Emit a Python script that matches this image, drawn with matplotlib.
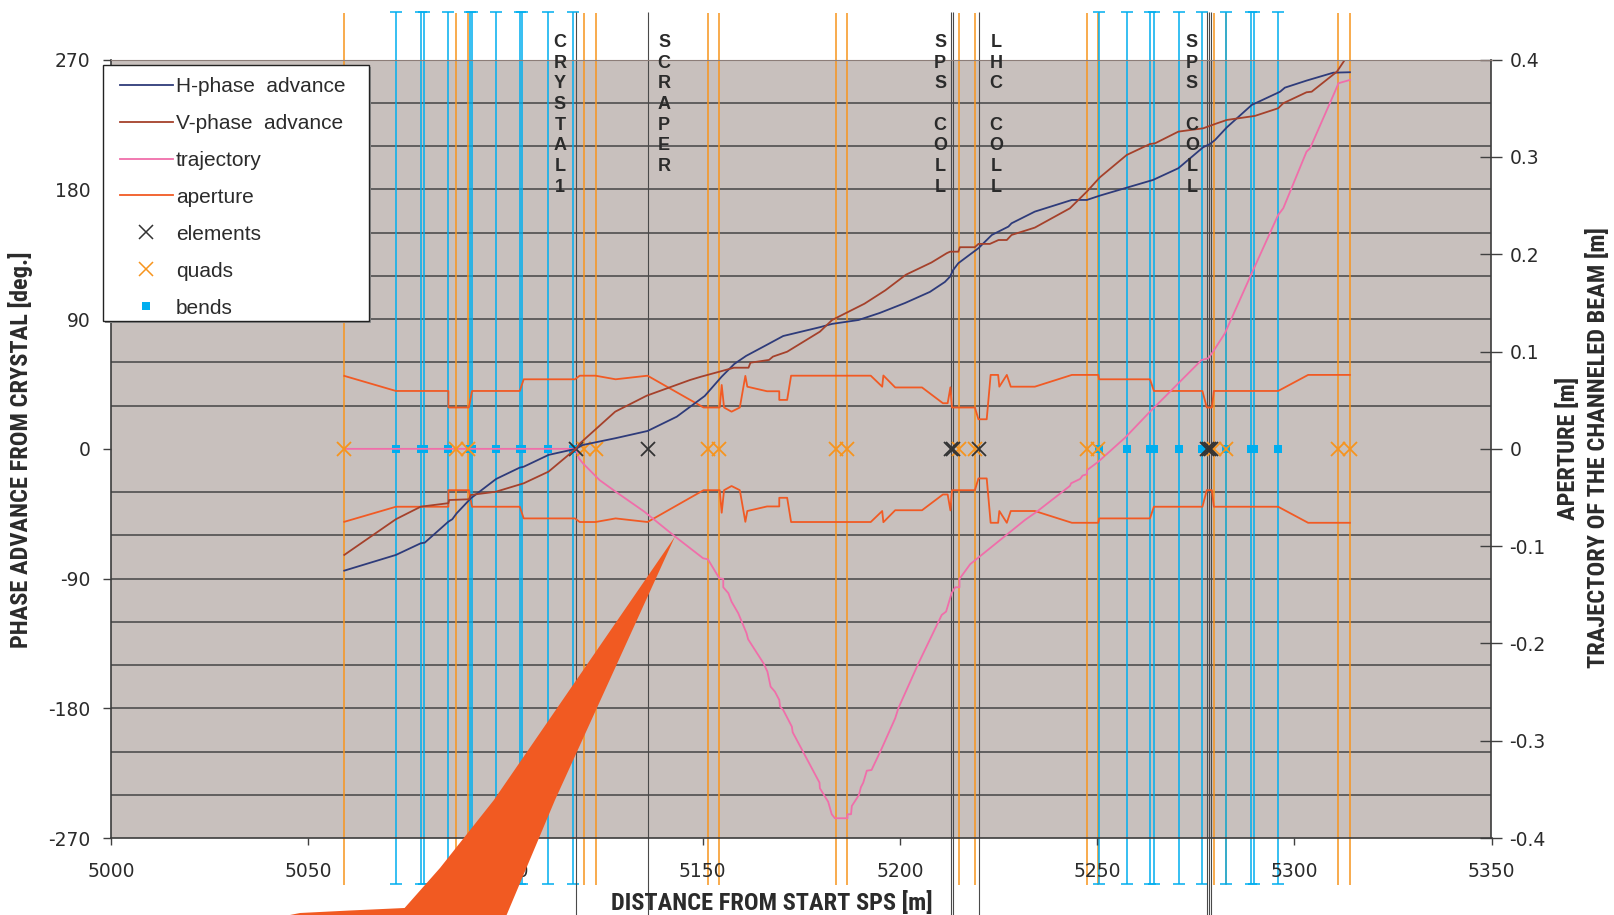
import numpy as np
import matplotlib
matplotlib.use("Agg")
from matplotlib import pyplot as plt
from matplotlib import font_manager as fm
from matplotlib.font_manager import FontProperties
from matplotlib.lines import Line2D
from matplotlib.patches import Polygon, Rectangle
from matplotlib.ticker import MultipleLocator, FuncFormatter
from matplotlib.transforms import blended_transform_factory

plt.rcParams['axes.unicode_minus'] = False

# %% data --------------------------------------------------------------------
# positions along the ring [m]
elements = [5117.8, 5136.0, 5213.0, 5213.5, 5220.0, 5277.8, 5278.3, 5278.8]
quads = [5059.1, 5087.4, 5090.4, 5119.8, 5122.9, 5151.3, 5154.2, 5183.7,
         5186.7, 5214.9, 5219.1, 5247.4, 5250.3, 5279.7, 5282.8, 5311.2, 5314.2]
bends = [5072.3, 5078.5, 5079.3, 5085.4, 5091.0, 5091.6, 5097.6, 5103.7,
         5104.2, 5110.8, 5117.2, 5250.5, 5257.5, 5263.5, 5264.5, 5270.7,
         5276.7, 5282.8, 5288.9, 5289.9, 5295.9]

# element names written above the plot
elem_names = ["CRYSTAL1", "SCRAPER", "SPS COLL", "LHC COLL", "SPS COLL"]
elem_name_s = [5113.8, 5140.2, 5210.2, 5224.4, 5274.0]

# horizontal phase advance [deg]
h_s = [5059.1, 5072.2, 5078.5, 5079.5, 5085.5, 5086.5, 5087.6, 5091.2, 5097.6,
       5103.6, 5104.6, 5110.9, 5117.8, 5119.6, 5127.9, 5136.0, 5143.4, 5150.5,
       5154.8, 5158.0, 5161.0, 5166.2, 5170.4, 5179.7, 5182.8, 5189.5, 5194.9,
       5201.3, 5207.6, 5211.4, 5212.7, 5213.5, 5214.8, 5219.9, 5223.3, 5227.5,
       5228.3, 5234.2, 5243.6, 5247.4, 5250.7, 5257.5, 5264.2, 5270.6, 5276.9,
       5278.6, 5279.9, 5282.9, 5289.2, 5296.4, 5297.6, 5303.1, 5309.9, 5314.1]
h_phase = [-84.5, -73.6, -65.5, -65.1, -50.5, -48.8, -44.7, -34.3, -20.9,
           -13.0, -12.4, -4.2, 0.0, 2.7, 7.4, 12.4, 22.3, 36.7,
           50.1, 58.9, 64.5, 72.1, 78.3, 84.4, 86.7, 89.4, 94.3,
           101.2, 108.9, 115.8, 119.5, 124.1, 128.8, 139.2, 148.4, 154.2,
           156.5, 164.6, 172.7, 172.7, 175.7, 181.2, 186.6, 194.7, 209.3,
           211.5, 214.3, 223.1, 238.6, 247.8, 250.6, 255.5, 261.0, 261.3]

# vertical phase advance [deg]
v_s = [5059.1, 5072.2, 5078.5, 5085.5, 5085.7, 5090.7, 5091.2, 5097.6, 5104.6,
       5110.9, 5117.8, 5118.9, 5127.8, 5135.8, 5146.8, 5149.6, 5154.3, 5157.9,
       5161.6, 5162.1, 5166.8, 5167.8, 5171.4, 5179.7, 5182.8, 5191.0, 5196.3,
       5201.5, 5208.0, 5211.9, 5212.7, 5214.8, 5215.2, 5219.0, 5219.9, 5222.8,
       5225.0, 5227.1, 5228.3, 5234.2, 5243.1, 5247.4, 5250.7, 5257.5, 5263.4,
       5264.7, 5270.6, 5276.9, 5279.9, 5282.9, 5290.0, 5295.9, 5297.2, 5303.1,
       5304.4, 5310.8, 5314.1]
v_phase = [-73.6, -48.8, -40.1, -37.7, -35.5, -35.0, -32.0, -29.7, -23.9,
           -15.8, 0.0, 3.9, 25.8, 36.9, 47.8, 50.1, 53.6, 56.3,
           56.3, 59.8, 61.7, 64.0, 67.4, 81.3, 89.4, 100.7, 110.0,
           120.8, 129.3, 135.8, 136.8, 136.8, 139.9, 139.9, 142.2, 142.2,
           144.9, 144.9, 148.4, 153.5, 166.9, 178.5, 188.4, 203.9, 211.5,
           212.0, 220.1, 222.4, 225.4, 228.2, 231.0, 236.3, 239.8, 247.4,
           247.8, 261.7, 275.2]

# trajectory of the channeled beam [m]
traj_s = [5059.1, 5117.8, 5118.6, 5119.6, 5123.8, 5127.9, 5135.2, 5143.0, 5150.1, 5151.3,
          5154.2, 5155.2, 5155.2, 5156.5, 5157.3, 5159.0, 5161.1, 5161.5, 5165.4, 5166.4,
          5167.2, 5168.3, 5169.4, 5169.6, 5170.4, 5172.6, 5172.8, 5179.6, 5179.7, 5181.0,
          5181.8, 5182.7, 5183.5, 5186.7, 5186.7, 5187.6, 5187.8, 5189.6, 5190.1, 5190.7,
          5191.6, 5192.8, 5195.4, 5198.8, 5199.6, 5204.7, 5210.6, 5211.7, 5213.1, 5214.0,
          5215.1, 5215.1, 5217.8, 5231.7, 5234.7, 5243.1, 5243.4, 5245.7, 5246.3, 5247.4,
          5247.5, 5250.3, 5257.2, 5263.4, 5266.4, 5276.5, 5278.2, 5279.4, 5282.4, 5289.2,
          5295.9, 5297.2, 5303.1, 5304.0, 5310.3, 5311.2, 5314.1]
traj = [0.0, 0.0, -0.0097, -0.0148, -0.0320, -0.0440, -0.0646, -0.0902, -0.1125, -0.1135,
        -0.1330, -0.1337, -0.1423, -0.1484, -0.1571, -0.1690, -0.1895, -0.1957, -0.2204, -0.2290,
        -0.2444, -0.2496, -0.2581, -0.2650, -0.2684, -0.2856, -0.2913, -0.3431, -0.3489, -0.3575,
        -0.3627, -0.3756, -0.3797, -0.3797, -0.3756, -0.3756, -0.3671, -0.3558, -0.3478, -0.3431,
        -0.3308, -0.3301, -0.3078, -0.2769, -0.2666, -0.2204, -0.1707, -0.1673, -0.1484, -0.1423,
        -0.1423, -0.1337, -0.1186, -0.0731, -0.0646, -0.0381, -0.0354, -0.0309, -0.0275, -0.0261,
        -0.0217, -0.0132, 0.0119, 0.0382, 0.0503, 0.0914, 0.0931, 0.0999, 0.1188, 0.1805,
        0.2404, 0.2473, 0.3055, 0.3090, 0.3672, 0.3758, 0.3792]

# half aperture [m] (symmetric about the axis)
ap_s = [5059.1, 5072.2, 5085.5, 5085.5, 5090.7, 5091.5, 5103.6, 5104.6, 5117.6, 5118.8,
        5122.8, 5127.9, 5136.0, 5150.2, 5154.3, 5154.8, 5155.4, 5157.3, 5159.4, 5160.8,
        5161.3, 5166.3, 5169.4, 5169.4, 5171.4, 5172.4, 5192.6, 5195.5, 5195.8, 5198.8,
        5205.6, 5210.9, 5212.1, 5212.8, 5213.2, 5219.0, 5219.9, 5222.0, 5223.0, 5224.9,
        5225.2, 5227.1, 5228.1, 5234.2, 5243.6, 5250.3, 5250.5, 5263.4, 5264.4, 5276.7,
        5277.8, 5279.1, 5279.6, 5295.9, 5303.5, 5314.1]
ap = [0.075, 0.0595, 0.0595, 0.0425, 0.0425, 0.0595, 0.0595, 0.0715, 0.0715, 0.0752,
      0.0752, 0.0715, 0.0752, 0.0425, 0.0425, 0.0657, 0.0425, 0.0382, 0.0425, 0.075,
      0.0639, 0.0592, 0.0592, 0.0503, 0.0503, 0.0752, 0.0752, 0.0639, 0.0754, 0.0631,
      0.0631, 0.0469, 0.0469, 0.0633, 0.0425, 0.0425, 0.0304, 0.0304, 0.076, 0.076,
      0.0639, 0.076, 0.0639, 0.0639, 0.076, 0.076, 0.0715, 0.0715, 0.0595, 0.0595,
      0.0425, 0.0425, 0.0595, 0.0595, 0.076, 0.076]
ap_low = [-a for a in ap]

# %% fonts -------------------------------------------------------------------
names = {f.name for f in fm.fontManager.ttflist}
arial = 'Liberation Sans' if 'Liberation Sans' in names else 'DejaVu Sans'


def is_bold(f):
    w = f.weight
    return (isinstance(w, int) and w >= 600) or (isinstance(w, str) and 'bold' in w.lower())


# a narrow bold face for the axis titles, if one is installed
narrow_prop = None
for key in ['Liberation Sans Narrow', 'Arial Narrow', 'Roboto Condensed', 'Open Sans Condensed',
            'DejaVu Sans Condensed', 'Noto Sans Condensed']:
    hits = [f for f in fm.fontManager.ttflist if (f.name == key or key in f.fname.replace('-', ' ')
            or (key.startswith(f.name) and 'ondensed' in str(f.stretch))) and is_bold(f)
            and 'Italic' not in f.fname and 'Oblique' not in f.fname]
    if hits:
        narrow_prop = FontProperties(fname=hits[0].fname)
        break
if narrow_prop is None:
    narrow_prop = FontProperties(family=arial, weight='bold')

# %% styling -----------------------------------------------------------------
NAVY = '#2e3b7a'
BROWN = '#a5412b'
PINK = '#f06eaa'
APER = '#f15a24'
QUAD = '#f7941d'
BEND = '#00aeef'
ELEM = '#4a4a4a'
BG = '#c8c0bd'
GRID = '#454545'
TXT = '#2b2b2b'

W, H = 1614, 915
fig = plt.figure(figsize=(W / 100, H / 100), dpi=100)
ax = fig.add_axes([111.2 / W, 77 / H, 1380.3 / W, 778.3 / H])
ax2 = ax.twinx()
# phase curves on top, the right axis carries the background and grid
ax.set_zorder(ax2.get_zorder() + 1)
ax.patch.set_visible(False)
ax2.patch.set_visible(True)
ax2.patch.set_facecolor(BG)

ax.set_xlim(5000, 5350)
ax.set_ylim(-270, 270)
ax2.set_ylim(-0.4, 0.4)

# gridlines every 30 deg
ax2.yaxis.set_minor_locator(MultipleLocator(0.4 / 9))
ax2.grid(False, which='major')
ax2.grid(True, which='minor', color=GRID, lw=1.1)
ax2.tick_params(which='minor', length=0)
ax2.set_axisbelow(True)


# vertical markers for lattice elements (error bars on y=0 points)
def vbars(xs, lo, hi, color, capsize, lw, z):
    eb = ax2.errorbar(xs, np.zeros(len(xs)),
                      yerr=[np.full(len(xs), lo), np.full(len(xs), hi)],
                      fmt='none', ecolor=color, elinewidth=lw,
                      capsize=capsize, capthick=lw, zorder=z)
    for art in list(eb.lines[1]) + list(eb.lines[2]):
        art.set_clip_on(False)


vbars(quads, 0.448, 0.448, QUAD, 0, 1.1, 2)
vbars(bends, 0.447, 0.449, BEND, 4.2, 1.1, 2)
vbars(elements, 0.5, 0.449, ELEM, 0, 0.8, 2.5)

ax2.plot(ap_s, ap, color=APER, lw=1.3, zorder=3)
ax2.plot(ap_s, ap_low, color=APER, lw=1.3, zorder=3)
ax2.plot(bends, np.zeros(len(bends)), 's', color=BEND, ms=5.5, mew=0, zorder=3.5)
ax2.plot(traj_s, traj, color=PINK, lw=1.3, zorder=4)
ax2.plot(quads, np.zeros(len(quads)), 'x', color=QUAD, ms=9.5, mew=1.3, zorder=5)
ax2.plot(elements, np.zeros(len(elements)), 'x', color='#333333', ms=9.5, mew=1.3, zorder=5)

ax.plot(h_s, h_phase, color=NAVY, lw=1.3)
ax.plot(v_s, v_phase, color=BROWN, lw=1.3)

# ticks
ax.set_xticks(np.arange(5000, 5351, 50))
ax.set_yticks(np.arange(-270, 271, 90))
ax2.set_yticks(np.arange(-0.4, 0.41, 0.1))
ax2.yaxis.set_major_formatter(FuncFormatter(lambda v, _: '0' if abs(v) < 1e-9 else f'{v:.1f}'))

tick_font = dict(labelsize=13.5, labelcolor=TXT, color='#404040', width=1)
ax.tick_params(axis='x', direction='out', length=5, pad=12, **tick_font)
ax.tick_params(axis='y', direction='out', length=6, pad=9, **tick_font)
ax2.tick_params(axis='y', which='major', direction='inout', length=16, pad=5, **tick_font)

for side in ['left', 'right', 'bottom']:
    ax.spines[side].set_color('#3c3c3c')
    ax.spines[side].set_linewidth(1.2)
ax.spines['top'].set_color('#8c7d78')
for sp in ax2.spines.values():
    sp.set_visible(False)

# axis titles, size fitted so the text length matches the original
titles = [
    ('PHASE ADVANCE FROM CRYSTAL [deg.]', 20.6, 450, 90, 396),
    ('DISTANCE FROM START SPS [m]', 772, 903, 0, 314),
    ('APERTURE [m]', 1568, 448, 90, 144),
    ('TRAJECTORY OF THE CHANNELED BEAM [m]', 1598, 448, 90, 453),
]
renderer = fig.canvas.get_renderer()
objs, ratios = [], []
for text, x, y, rot, length in titles:
    t = fig.text(x / W, 1 - y / H, text, rotation=rot, fontproperties=narrow_prop,
                 size=16, color=TXT, ha='center', va='center')
    bb = t.get_window_extent(renderer)
    ratios.append(length / (bb.height if rot else bb.width))
    objs.append(t)
title_size = 16 * float(np.mean(ratios))
for t in objs:
    t.set_fontsize(title_size)

# element names, one letter per row
trans = blended_transform_factory(ax.transData, fig.transFigure)
for name, s in zip(elem_names, elem_name_s):
    for i, ch in enumerate(name):
        ax.text(s, 1 - (42.3 + i * 20.7) / H, ch, transform=trans, ha='center', va='center',
                family=arial, weight='bold', size=13, color=TXT, clip_on=False, zorder=10)

# legend
handles = [
    Line2D([], [], color=NAVY, lw=1.3),
    Line2D([], [], color=BROWN, lw=1.3),
    Line2D([], [], color=PINK, lw=1.3),
    Line2D([], [], color=APER, lw=1.3),
    Line2D([], [], ls='none', marker='x', color='#333333', ms=9.5, mew=1.1),
    Line2D([], [], ls='none', marker='x', color=QUAD, ms=9.5, mew=1.1),
    Line2D([], [], ls='none', marker='s', color=BEND, ms=6, mew=0),
]
labels = ['H-phase  advance', 'V-phase  advance', 'trajectory', 'aperture',
          'elements', 'quads', 'bends']
fig.patches.append(Rectangle((104.7 / W, 1 - 322.7 / H), 266.6 / W, 255.7 / H,
                             transform=fig.transFigure, fc='#8f8f8f', ec='none', zorder=3.8))
fig.patches.append(Rectangle((102.7 / W, 1 - 320.7 / H), 266.6 / W, 255.7 / H,
                             transform=fig.transFigure, fc='white', ec='#222222', lw=1, zorder=4))
leg = fig.legend(handles, labels, loc='upper left', bbox_to_anchor=(120 / W, 1 - 77 / H),
                 bbox_transform=fig.transFigure, frameon=False, borderpad=0, borderaxespad=0,
                 handlelength=2.53, handletextpad=0.16, labelspacing=0.86,
                 prop=dict(family=arial, size=15))
leg.set_zorder(5)
for t in leg.get_texts():
    t.set_color(TXT)

# orange callout pointer
pointer = [(675, 536.5), (555, 800), (506.6, 915), (290, 915), (300, 913),
           (350, 910.5), (404.6, 908), (440, 868), (493.9, 800)]
fig.patches.append(Polygon([(x / W, 1 - y / H) for x, y in pointer], closed=True,
                           transform=fig.transFigure, fc='#f15a22', ec='none', zorder=6))

fig.savefig('out.png', dpi=100)
